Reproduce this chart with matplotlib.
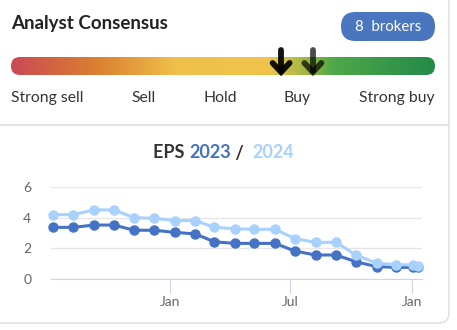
import matplotlib.pyplot as plt
import matplotlib.dates as mdates
import numpy as np
import pandas as pd
from matplotlib.colors import LinearSegmentedColormap
from matplotlib.patches import FancyBboxPatch

plt.rcParams['font.family'] = ['Lato', 'DejaVu Sans']

# consensus scale
scale_labels = ["Strong sell", "Sell", "Hold", "Buy", "Strong buy"]
n_brokers = 8
# arrow positions along the bar (0 = strong sell, 1 = strong buy): current, previous
consensus_pos = [0.637, 0.712]

# EPS revisions
dates = pd.to_datetime([
    "2022-07-08", "2022-08-08", "2022-09-08", "2022-10-08", "2022-11-08",
    "2022-12-08", "2023-01-08", "2023-02-08", "2023-03-08", "2023-04-08",
    "2023-05-08", "2023-06-08", "2023-07-08", "2023-08-08", "2023-09-08",
    "2023-10-08", "2023-11-08", "2023-12-08", "2024-01-02", "2024-01-09",
])
eps_2023 = [3.38, 3.38, 3.53, 3.53, 3.19, 3.19, 3.05, 2.95, 2.44, 2.33,
            2.33, 2.33, 1.83, 1.57, 1.57, 1.13, 0.81, 0.76, 0.76, 0.76]
eps_2024 = [4.21, 4.21, 4.52, 4.52, 4.01, 3.97, 3.82, 3.82, 3.38, 3.29,
            3.25, 3.25, 2.64, 2.40, 2.40, 1.57, 1.03, 0.94, 0.92, 0.85]

C_DARK = "#4472c4"
C_LIGHT = "#a8d1fd"
W, H = 457, 330

fig = plt.figure(figsize=(W / 100, H / 100), dpi=100)
bg = fig.add_axes([0, 0, 1, 1])
bg.set_xlim(0, W)
bg.set_ylim(H, 0)
bg.axis("off")

# card outline + separator
card = FancyBboxPatch((-20, -20), 469, 343, boxstyle="round,pad=0,rounding_size=10",
                      fc="white", ec="#e3e3e3", lw=1.2)
bg.add_patch(card)
bg.plot([0, 449], [125, 125], color="#e3e3e3", lw=1.5)

bg.text(11, 24, "Analyst Consensus", fontsize=13.5, fontweight="bold",
        color="#222222", va="center", ha="left")

badge = FancyBboxPatch((341, 12), 94, 29, boxstyle="round,pad=0,rounding_size=14.5",
                       fc="#4a76bf", ec="none")
bg.add_patch(badge)
bg.text(388, 27, f"{n_brokers}  brokers", fontsize=10.8, color="white",
        ha="center", va="center")

# gradient bar
x0, x1, y0, y1 = 11, 435, 57, 75
cmap = LinearSegmentedColormap.from_list("consensus", [
    (0.0, "#cc4a55"), (0.2, "#da7f30"), (0.39, "#f0c04a"), (0.61, "#efc44a"),
    (0.68, "#b0ba45"), (0.76, "#4fa848"), (1.0, "#238a4a")])
grad = np.linspace(0, 1, 512).reshape(1, -1)
im = bg.imshow(grad, cmap=cmap, aspect="auto", extent=[x0, x1, y1, y0], zorder=2)
clip = FancyBboxPatch((x0, y0), x1 - x0, y1 - y0, boxstyle="round,pad=0,rounding_size=9",
                      fc="none", ec="none", transform=bg.transData)
bg.add_patch(clip)
im.set_clip_path(clip)
bg.set_xlim(0, W)
bg.set_ylim(H, 0)

# arrows: previous (faded) then current
for pos, alpha in zip(consensus_pos[::-1], [0.7, 0.92]):
    ax_x = x0 + pos * (x1 - x0)
    kw = dict(color="black", alpha=alpha, lw=4.2, solid_capstyle="round",
              solid_joinstyle="miter", zorder=3)
    bg.plot([ax_x, ax_x], [50, 71], **kw)
    bg.plot([ax_x - 8.5, ax_x, ax_x + 8.5], [63, 72, 63], **kw)

# scale labels
label_x = [11, 144, 220, 297, 435]
label_ha = ["left", "center", "center", "center", "right"]
for lab, lx, ha in zip(scale_labels, label_x, label_ha):
    bg.text(lx, 98, lab, fontsize=11.3, color="#333333", ha=ha, va="center")

# EPS title, coloured pieces chained together
t1 = bg.text(153, 153, "EPS ", fontsize=13, fontweight="bold", color="#333333",
             ha="left", va="center")
t2 = bg.annotate("2023", xy=(1, 0), xycoords=t1, va="bottom", fontsize=13,
                 fontweight="bold", color=C_DARK)
t3 = bg.annotate(" /  ", xy=(1, 0), xycoords=t2, va="bottom", fontsize=13,
                 fontweight="bold", color="#333333")
bg.annotate("2024", xy=(1, 0), xycoords=t3, va="bottom", fontsize=13,
            fontweight="bold", color=C_LIGHT)

# EPS chart
px0, px1, py0, py1 = 50.7, 421.7, 187.3, 279
ax = fig.add_axes([px0 / W, 1 - py1 / H, (px1 - px0) / W, (py1 - py0) / H])
ax.patch.set_alpha(0)
ax.plot(dates, eps_2023, color=C_DARK, lw=2.2, marker="o", ms=6.5, clip_on=False, zorder=3)
ax.plot(dates, eps_2024, color=C_LIGHT, lw=2.2, marker="o", ms=6.5, clip_on=False, zorder=4)
ax.set_ylim(0, 6)
ax.set_yticks([0, 2, 4, 6])
ax.set_xlim(pd.Timestamp("2022-07-05"), pd.Timestamp("2024-01-15"))
ax.set_xticks(pd.to_datetime(["2023-01-01", "2023-07-01", "2024-01-01"]))
ax.xaxis.set_major_formatter(mdates.DateFormatter("%b"))
ax.grid(axis="y", color="#e6e6e6", lw=1)
ax.set_axisbelow(True)
for s in ["top", "right", "left"]:
    ax.spines[s].set_visible(False)
ax.spines["bottom"].set_color("#ccd6eb")
ax.tick_params(axis="y", length=0, pad=14, labelsize=10, labelcolor="#666666")
ax.tick_params(axis="x", length=10, color="#ccd6eb", pad=2, labelsize=10,
               labelcolor="#666666")

fig.savefig("out.png", dpi=100)
